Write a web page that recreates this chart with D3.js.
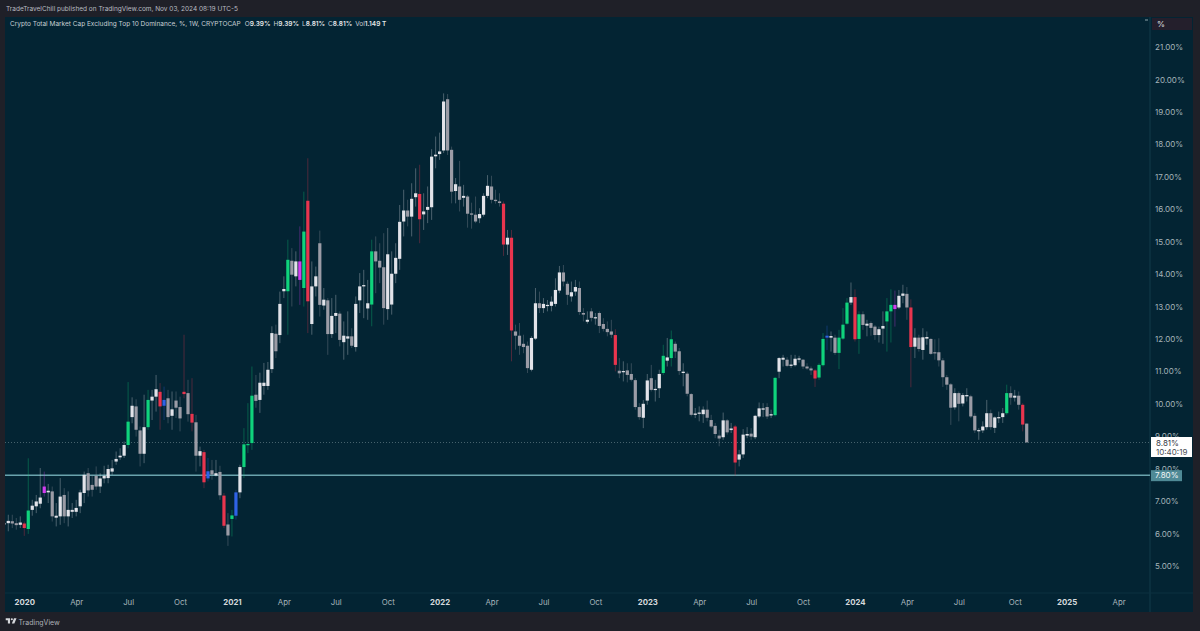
<!DOCTYPE html>
<html><head><meta charset="utf-8">
<script src="https://cdn.jsdelivr.net/npm/d3@7"></script>
<style>
html,body{margin:0;padding:0;background:#1f2028;overflow:hidden}
text{font-family:Inter,"Noto Sans",sans-serif}
</style></head><body><svg id="c" width="1200" height="631"></svg>
<script>
const opens=[
6.32,6.32,6.38,6.32,6.27,6.31,6.14,6.73,6.84,6.92,
7.25,7.27,7.30,6.49,6.53,7.19,6.53,6.67,6.67,6.84,
7.25,7.86,7.50,7.78,7.45,7.70,7.71,7.91,8.22,8.35,
8.40,8.73,9.59,9.92,9.18,8.46,9.28,10.10,10.22,10.37,
9.94,10.17,9.63,10.10,9.90,10.37,10.33,9.69,9.43,8.40,
8.51,7.70,7.95,7.79,7.90,7.17,6.28,6.45,6.55,7.27,
8.05,8.73,8.79,10.28,10.12,10.55,10.55,11.07,12.16,12.12,
13.47,13.47,14.41,13.93,14.39,13.57,16.26,12.46,13.62,14.95,
13.03,13.19,12.15,12.71,12.78,11.90,12.01,12.08,11.75,13.19,
13.62,12.94,13.06,14.70,14.41,14.21,12.92,13.06,14.01,14.47,
15.62,15.96,15.77,16.37,16.47,15.84,15.98,16.06,17.63,17.70,
17.81,19.39,17.83,16.56,16.70,16.35,16.39,15.87,15.83,15.72,
15.83,16.41,16.70,16.29,16.24,16.17,14.91,15.12,12.23,12.10,
11.85,11.79,11.05,12.01,13.10,12.95,13.02,13.02,13.08,13.49,
14.05,13.70,13.31,13.46,13.57,12.80,12.53,12.85,12.64,12.80,
12.46,12.31,12.23,12.12,11.02,10.99,11.03,10.92,10.73,9.90,
9.57,10.10,10.79,10.43,10.48,10.95,11.33,11.41,11.85,11.62,
10.95,10.93,10.30,9.66,9.71,9.68,9.82,9.50,9.32,9.02,
8.97,9.49,9.19,9.30,8.28,8.44,9.02,9.08,8.97,9.61,
9.82,9.90,9.64,9.65,10.99,11.36,11.36,11.17,11.19,11.36,
11.36,11.15,11.09,11.03,10.81,11.19,12.04,12.04,12.04,11.57,
12.01,12.47,13.12,13.29,12.00,12.76,12.41,12.49,12.38,12.12,
12.32,12.54,12.85,13.05,12.97,13.33,13.39,12.97,11.76,12.04,
11.66,12.01,12.00,11.59,11.59,11.34,10.82,10.60,9.89,10.33,
10.01,10.23,10.23,9.63,9.17,9.18,9.28,9.71,9.26,9.57,
9.59,9.71,10.33,10.19,10.25,9.97,9.39];
const closes=[
6.28,6.39,6.31,6.26,6.34,6.17,6.71,6.86,6.99,7.11,
7.45,7.32,6.53,6.55,7.14,6.53,6.73,6.73,6.79,7.27,
7.81,7.33,7.35,7.45,7.70,7.78,7.99,8.01,8.30,8.40,
8.73,9.45,9.94,9.20,8.46,9.28,10.12,10.22,10.45,9.92,
10.12,9.59,9.83,9.88,9.55,10.30,9.68,9.42,8.40,8.54,
7.58,7.92,7.82,7.86,7.18,6.24,5.94,6.56,7.27,8.05,
8.75,8.76,10.25,10.09,10.65,10.65,11.05,12.18,11.62,13.08,
13.54,14.44,13.98,14.39,13.82,15.31,13.16,13.62,13.93,13.05,
13.21,12.15,12.71,12.80,11.97,12.10,12.08,11.79,13.08,13.62,
13.66,13.10,14.70,14.39,14.20,12.95,14.61,14.01,14.50,15.61,
15.96,15.77,16.32,16.49,15.69,15.93,16.07,17.62,17.68,17.78,
19.32,17.81,16.54,16.77,16.29,16.41,15.86,15.83,15.62,15.85,
16.41,16.72,16.29,16.25,16.19,14.91,15.12,12.26,12.10,11.79,
11.75,11.10,12.03,13.10,12.95,13.08,13.05,13.15,13.51,14.05,
13.77,13.36,13.44,13.60,12.83,12.75,12.59,12.65,12.67,12.40,
12.31,12.21,12.13,11.20,10.94,11.01,10.89,10.74,9.90,9.59,
10.00,10.72,10.43,10.46,10.92,11.48,11.43,11.99,11.61,11.01,
10.99,10.31,9.66,9.70,9.73,9.82,9.57,9.30,9.07,8.93,
9.49,9.12,9.24,8.19,8.44,9.05,9.07,8.99,9.63,9.86,
9.86,9.61,9.68,10.80,11.41,11.42,11.17,11.21,11.39,11.40,
11.15,11.09,11.03,10.78,11.20,12.00,12.10,12.09,11.57,12.04,
12.44,13.12,13.29,11.99,12.76,12.43,12.47,12.34,12.12,12.30,
12.40,12.85,13.05,12.92,13.33,13.40,12.97,11.75,12.04,11.69,
12.05,12.06,11.54,11.56,11.34,10.82,10.59,9.88,10.33,10.00,
10.27,10.27,9.61,9.18,9.19,9.30,9.71,9.28,9.58,9.59,
9.71,10.33,10.19,10.25,9.97,9.36,8.81];
const highs=[
6.37,6.58,6.58,6.48,6.53,6.37,8.32,7.04,7.19,8.02,
7.91,7.53,7.45,6.94,7.71,7.40,7.30,6.94,7.04,7.35,
7.91,8.02,7.81,8.07,7.86,8.09,8.12,8.27,8.53,8.63,
8.84,10.67,10.20,10.14,9.30,10.28,10.43,10.43,10.89,10.64,
10.53,10.43,10.38,10.38,10.22,12.13,10.74,10.79,9.66,8.68,
8.58,8.33,8.27,8.27,8.09,7.25,6.63,6.73,7.35,8.12,
9.25,10.02,11.15,10.89,10.96,11.26,11.29,12.39,12.44,13.46,
13.93,15.06,14.80,14.70,15.47,16.54,17.57,14.39,14.23,15.34,
13.57,13.26,13.26,13.36,12.85,12.54,12.85,12.33,13.31,14.03,
14.13,13.82,15.06,15.16,14.95,15.26,15.42,14.70,14.95,16.13,
16.60,16.29,16.80,17.26,17.37,16.49,16.70,17.85,18.24,18.36,
19.57,19.55,17.93,16.96,17.49,16.75,16.44,16.20,16.39,16.03,
16.49,17.05,17.03,16.60,16.49,16.24,15.36,15.36,12.44,12.49,
12.13,11.92,12.08,13.57,13.46,13.26,13.20,13.31,13.87,14.25,
14.28,13.77,13.77,13.82,13.77,12.95,12.85,12.95,12.80,12.85,
12.64,12.54,12.59,12.30,11.41,11.31,11.25,11.25,10.79,10.02,
10.12,10.92,11.20,10.74,11.05,11.82,12.03,12.26,11.92,11.72,
11.25,10.99,10.33,9.87,9.92,9.92,10.10,9.66,9.41,9.20,
9.73,9.53,9.41,9.35,8.58,9.22,9.28,9.25,9.66,10.04,
10.02,10.02,9.82,10.82,11.44,11.51,11.44,11.51,11.51,11.48,
11.38,11.25,11.15,11.07,11.25,12.18,12.41,12.23,12.13,12.28,
12.95,13.26,13.74,13.53,12.85,12.85,12.59,12.54,12.43,12.38,
12.85,13.26,13.53,13.49,13.51,13.67,13.60,13.22,12.33,12.13,
12.33,12.23,12.02,11.99,12.02,11.41,10.89,10.64,10.48,10.38,
10.33,10.48,10.28,9.71,9.25,9.46,10.12,9.82,9.61,9.76,
9.87,10.59,10.54,10.43,10.38,10.02,9.39];
const lows=[
6.22,6.07,6.17,6.12,6.17,5.93,5.99,6.55,6.63,6.78,
7.14,6.94,6.37,6.22,6.27,6.32,6.22,6.48,6.53,6.63,
6.94,7.14,7.14,7.35,7.25,7.55,7.55,7.81,8.12,8.27,
8.33,8.63,9.40,8.99,8.07,8.17,9.20,9.50,9.76,9.20,
9.50,9.40,9.20,9.56,9.15,10.17,9.45,9.15,7.91,8.07,
7.40,7.61,7.66,7.76,7.04,6.17,5.62,5.91,6.43,7.09,
7.71,8.48,8.58,9.88,9.72,10.28,10.43,10.95,11.41,11.87,
13.26,12.13,13.00,13.62,13.05,13.00,12.18,12.13,13.31,12.69,
12.90,11.51,12.03,12.18,11.77,11.36,11.51,11.72,11.61,12.80,
12.64,12.59,12.39,13.41,13.72,12.44,12.59,12.75,13.72,14.13,
15.16,15.47,15.16,16.08,14.95,15.36,15.57,15.67,17.26,17.52,
17.73,17.67,16.18,16.18,15.93,16.08,15.43,15.40,15.57,15.57,
15.77,16.34,16.18,16.17,16.08,14.56,14.59,11.31,11.67,11.51,
11.56,10.95,11.00,11.97,12.80,12.80,12.85,12.85,13.00,13.41,
13.62,13.05,13.15,13.33,12.74,12.54,12.47,12.54,12.44,12.18,
12.23,12.08,12.03,11.00,10.79,10.69,10.66,10.69,9.82,9.51,
9.25,9.97,10.38,10.07,10.18,10.89,11.15,11.15,11.41,10.89,
10.54,10.23,9.61,9.56,9.46,9.41,9.46,9.25,8.94,8.69,
8.89,9.05,9.10,7.78,8.07,8.33,8.94,8.89,8.91,9.56,
9.59,9.53,9.56,9.61,10.79,11.15,11.13,11.10,11.15,11.27,
11.07,11.05,10.89,10.52,10.74,11.15,11.66,11.61,11.51,11.07,
11.97,12.44,13.05,11.92,11.54,12.28,12.08,12.10,11.97,11.89,
11.85,11.61,11.89,12.38,12.92,13.10,12.59,10.51,11.41,11.61,
11.36,11.82,11.51,11.36,11.15,10.52,10.43,9.35,9.82,9.46,
9.92,10.07,9.56,9.10,8.89,9.10,9.20,9.20,9.10,9.41,
9.41,9.66,9.97,10.07,9.82,9.15,8.81];
const greenWeeks=[6,31,36,57,60,61,62,71,75,92,165,167,193,204,205,209,210,211,214,221,222,251];
const redWeeks=[5,39,45,47,50,55,76,104,125,127,153,183,203,213,227,255];
const blueWeeks=[40,51,58,206];
const magentaWeeks=[10,74,223];
const priceTicks=[5,6,7,8,9,10,11,12,13,14,15,16,17,18,19,20,21];
const timeTicks=["2020-01-06","2020-04-06","2020-07-06","2020-10-05","2021-01-04","2021-04-05","2021-07-05","2021-10-04","2022-01-03","2022-04-04","2022-07-04","2022-10-03","2023-01-02","2023-04-03","2023-07-03","2023-10-02","2024-01-01","2024-04-01","2024-07-01","2024-10-07","2025-01-06","2025-04-07"];
const timeLabels=["2020","Apr","Jul","Oct","2021","Apr","Jul","Oct","2022","Apr","Jul","Oct","2023","Apr","Jul","Oct","2024","Apr","Jul","Oct","2025","Apr"];
const lastPrice=8.81, levelPrice=7.80;
const headerLine="TradeTravelChill published on TradingView.com, Nov 03, 2024 08:19 UTC-5";
const titleText="Crypto Total Market Cap Excluding Top 10 Dominance, %, 1W, CRYPTOCAP";
const ohlc=[["O","9.39%"],["H","9.39%"],["L","8.81%"],["C","8.81%"],["Vol","1.149 T"]];

const weeks=d3.utcMonday.range(new Date(Date.UTC(2019,11,2)),new Date(Date.UTC(2024,10,4)));
const W=1200,H=631,L=5,R=1150,RR=1193,T=17,AX=593,B=612;
const frame="#1f2028",panel="#032433";
const x=d3.scaleUtc().domain([weeks[0],weeks[256]]).range([4.3,1026.7]);
const y=d3.scaleLinear().domain([5,21]).range([566,47]);
const svg=d3.select("#c");
svg.append("rect").attr("width",W).attr("height",H).attr("fill",frame);
svg.append("rect").attr("x",L).attr("y",T).attr("width",RR-L).attr("height",B-T).attr("fill",panel);
svg.append("defs").append("clipPath").attr("id","pane").append("rect").attr("x",L).attr("y",T).attr("width",R-L).attr("height",AX-T);
svg.append("line").attr("x1",R).attr("x2",R).attr("y1",T).attr("y2",B).attr("stroke","#123a4a");
svg.append("line").attr("x1",L).attr("x2",RR).attr("y1",AX).attr("y2",AX).attr("stroke","#0c3040");

const colorOf=i=>greenWeeks.includes(i)?"#0fd37c":redWeeks.includes(i)?"#e8354e":blueWeeks.includes(i)?"#2f62e6":magentaWeeks.includes(i)?"#d23df0":closes[i]>=opens[i]?"#e2e3e9":"#9b9ca6";

const pane=svg.append("g").attr("clip-path","url(#pane)");
pane.append("line").attr("x1",L).attr("x2",R).attr("y1",y(lastPrice)).attr("y2",y(lastPrice)).attr("stroke","#9fb4ba").attr("stroke-width",.8).attr("stroke-dasharray","1 2").attr("opacity",.6);
pane.append("line").attr("x1",L).attr("x2",R).attr("y1",y(levelPrice)).attr("y2",y(levelPrice)).attr("stroke","#6aa3ad").attr("stroke-width",1.4);
const idx=d3.range(opens.length);
pane.selectAll("line.w").data(idx).join("line").attr("class","w")
 .attr("x1",i=>x(weeks[i])).attr("x2",i=>x(weeks[i])).attr("y1",i=>y(highs[i])).attr("y2",i=>y(lows[i]))
 .attr("stroke",colorOf).attr("stroke-width",1).attr("opacity",.32);
pane.selectAll("rect.b").data(idx).join("rect").attr("class","b")
 .attr("x",i=>x(weeks[i])-1.6).attr("width",3.2)
 .attr("y",i=>y(Math.max(opens[i],closes[i])))
 .attr("height",i=>Math.max(1.2,Math.abs(y(opens[i])-y(closes[i]))))
 .attr("fill",colorOf);

const yAxis=d3.axisRight(y).tickValues(priceTicks).tickSize(0).tickPadding(0).tickFormat(d=>d3.format(".2f")(d)+"%");
const gy=svg.append("g").attr("transform",`translate(1155,0)`).call(yAxis);
gy.select(".domain").remove();
gy.selectAll("text").attr("font-size",8).attr("fill","#a6b4ba").attr("font-family","Inter");

const xAxis=d3.axisBottom(x).tickValues(timeTicks.map(s=>new Date(s+"T00:00:00Z"))).tickSize(0).tickPadding(0).tickFormat((d,i)=>timeLabels[i]);
const gx=svg.append("g").attr("transform",`translate(0,${599})`).call(xAxis);
gx.select(".domain").remove();
gx.selectAll("text").attr("font-size",7.8).attr("font-family","Inter")
 .attr("fill",(d,i)=>/^\d/.test(timeLabels[i])?"#d6dadd":"#a6b4ba").attr("font-weight",(d,i)=>/^\d/.test(timeLabels[i])?700:400);

// price flags
svg.append("rect").attr("x",1151).attr("y",y(levelPrice)-5).attr("width",31).attr("height",11).attr("fill","#4f8a96");
svg.append("text").attr("x",1155).attr("y",y(levelPrice)+3.3).attr("font-size",8).attr("fill","#f2f6f7").text("7.80%");
svg.append("rect").attr("x",1151).attr("y",437).attr("width",41).attr("height",20).attr("fill","#ffffff");
svg.append("text").attr("x",1156).attr("y",445.5).attr("font-size",8).attr("fill","#33363f").text("8.81%");
svg.append("text").attr("x",1156).attr("y",455).attr("font-size",8).attr("fill","#4a4d55").text("10:40:19");

// percent box
svg.append("rect").attr("x",1152).attr("y",18).attr("width",40).attr("height",12).attr("fill","#241f2c");
svg.append("text").attr("x",1157).attr("y",27).attr("font-size",8).attr("font-weight",500).attr("fill","#d8dadd").text("%");
svg.append("line").attr("x1",1145).attr("x2",1148).attr("y1",20).attr("y2",20).attr("stroke","#8ea3ab");

// header
svg.append("text").attr("x",6).attr("y",11).attr("font-size",6.5).attr("fill","#b9bcc2").text(headerLine);
const title=svg.append("text").attr("x",10).attr("y",26).attr("font-size",6.5).attr("fill","#c8cfd3");
title.append("tspan").text(titleText);
ohlc.forEach(([k,v],i)=>{
  title.append("tspan").attr("dx",i?3:4).text(k);
  title.append("tspan").attr("font-weight",600).attr("fill","#e3e6e8").text(v);
});

// footer
svg.append("path").attr("d","M14 6H2v6h6v9h6V6Zm12 15h-7l6-15h7l-6 15Zm-7-9a3 3 0 1 0 0-6 3 3 0 0 0 0 6Z")
 .attr("transform","translate(5,616) scale(0.36)").attr("fill","#d6d8dc");
svg.append("text").attr("x",18.5).attr("y",624.5).attr("font-size",7).attr("fill","#aeb1b8").text("TradingView");
</script></body></html>
